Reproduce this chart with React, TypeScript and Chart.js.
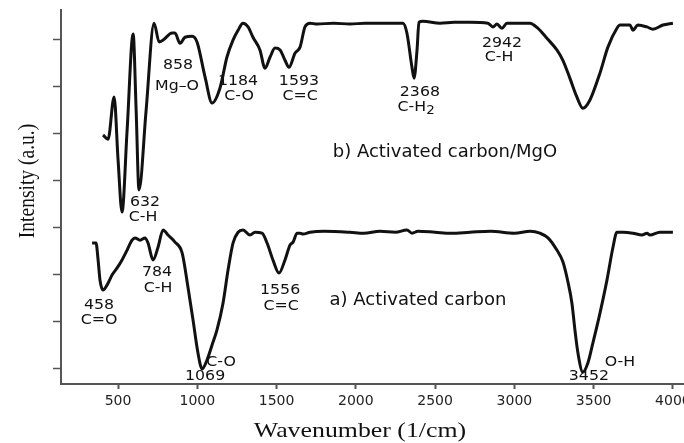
import React, { useEffect, useRef } from "react";
import { Chart, registerables } from "chart.js";

Chart.register(...registerables);

// ---- axis ticks ----
const xTicks = [500, 1000, 1500, 2000, 2500, 3000, 3500, 4000];
const yTicks = [0, 1, 2, 3, 4, 5, 6, 7];

// ---- b) Activated carbon/MgO ----
const mgoWavenumber = [
  405, 437, 475, 500, 525, 557, 595, 614, 632, 677, 727, 759, 784, 841, 859, 891, 922, 967, 998,
  1049, 1093, 1143, 1187, 1225, 1257, 1288, 1320, 1351, 1395, 1427, 1459, 1490, 1522, 1553, 1578,
  1616, 1648, 1679, 1711, 1755, 1860, 1963, 2060, 2152, 2297, 2322, 2354, 2367, 2386, 2398, 2423,
  2531, 2620, 2720, 2833, 2865, 2890, 2922, 2953, 3098, 3149, 3205, 3268, 3306, 3350, 3394, 3432,
  3476, 3540, 3590, 3647, 3666, 3729, 3748, 3779, 3836, 3874, 3937, 4000,
];
const mgoIntensity = [
  4.96, 4.87, 5.77, 4.43, 3.32, 5.06, 7.11, 5.49, 3.79, 5.49, 7.34, 6.94, 6.98, 7.13, 7.13, 6.91,
  7.04, 7.06, 6.94, 6.19, 5.64, 5.96, 6.62, 6.98, 7.19, 7.34, 7.26, 7.04, 6.77, 6.38, 6.62, 6.81,
  6.77, 6.55, 6.40, 6.70, 6.83, 7.26, 7.34, 7.32, 7.34, 7.32, 7.34, 7.34, 7.34, 7.13, 6.40, 6.17,
  6.77, 7.36, 7.38, 7.34, 7.36, 7.36, 7.34, 7.26, 7.32, 7.23, 7.34, 7.34, 7.23, 7.02, 6.77, 6.55,
  6.17, 5.77, 5.53, 5.70, 6.28, 6.83, 7.23, 7.30, 7.30, 7.19, 7.30, 7.26, 7.21, 7.30, 7.34,
];

// ---- a) Activated carbon ----
const carbonWavenumber = [
  336, 361, 374, 386, 405, 431, 462, 494, 525, 557, 588, 607, 639, 670, 689, 721, 752, 784, 815,
  859, 904, 941, 973, 1004, 1030, 1061, 1093, 1124, 1162, 1194, 1225, 1257, 1288, 1332, 1364, 1408,
  1440, 1477, 1515, 1553, 1585, 1604, 1629, 1648, 1667, 1711, 1800, 1963, 2050, 2152, 2250, 2322,
  2354, 2392, 2500, 2600, 2720, 2850, 3000, 3100, 3161, 3212, 3268, 3306, 3338, 3363, 3382, 3401,
  3432, 3464, 3495, 3540, 3584, 3622, 3647, 3685, 3748, 3805, 3836, 3855, 3918, 4000,
];
const carbonIntensity = [
  2.66, 2.66, 2.30, 1.87, 1.66, 1.77, 1.98, 2.13, 2.30, 2.51, 2.72, 2.77, 2.72, 2.77, 2.66, 2.30,
  2.57, 2.94, 2.83, 2.68, 2.45, 1.72, 1.02, 0.32, -0.02, 0.17, 0.49, 0.81, 1.38, 2.09, 2.66, 2.89,
  2.94, 2.83, 2.89, 2.87, 2.66, 2.30, 2.02, 2.30, 2.62, 2.68, 2.87, 2.87, 2.85, 2.89, 2.91, 2.89,
  2.87, 2.91, 2.89, 2.94, 2.87, 2.91, 2.89, 2.87, 2.89, 2.91, 2.87, 2.91, 2.87, 2.77, 2.51, 2.26,
  1.83, 1.38, 0.81, 0.32, -0.09, 0.11, 0.53, 1.17, 1.87, 2.57, 2.89, 2.89, 2.87, 2.83, 2.87, 2.83,
  2.89, 2.89,
];

// ---- peak annotations (text centre in data units) ----
const peakText = [
  "858", "Mg–O", "1184", "C-O", "1593", "C=C", "2368", "C-H_2", "2942", "C-H",
  "632", "C-H", "784", "C-H", "458", "C=O", "C-O", "1069", "1556", "C=C", "O-H", "3452",
];
const peakWavenumber = [
  878, 872, 1257, 1263, 1641, 1648, 2404, 2380, 2922, 2903,
  670, 658, 746, 752, 380, 380, 1150, 1049, 1522, 1528, 3666, 3470,
];
const peakIntensity = [
  6.43, 6.0, 6.09, 5.77, 6.09, 5.77, 5.87, 5.55, 6.91, 6.6,
  3.53, 3.21, 2.04, 1.7, 1.34, 1.02, 0.11, -0.17, 1.64, 1.3, 0.11, -0.17,
];

// ---- series names ----
const seriesText = ["b) Activated carbon/MgO", "a) Activated carbon"];
const seriesWavenumber = [2562, 2392];
const seriesIntensity = [4.6, 1.45];

const xTitle = "Wavenumber (1/cm)";
const yTitle = "Intensity (a.u.)";

const textPlugin = {
  id: "ftirTexts",
  afterDraw(chart: any) {
    const { ctx, scales } = chart;
    const xs = scales.x;
    const ys = scales.y;
    const draw = (
      t: string,
      px: number,
      py: number,
      size: number,
      family: string,
      sx: number,
      sy = 1,
      rot = 0,
      base: CanvasTextBaseline = "middle"
    ) => {
      ctx.save();
      ctx.translate(px, py);
      if (rot) ctx.rotate(rot);
      ctx.scale(sx, sy);
      ctx.font = `${size}px ${family}`;
      ctx.textBaseline = base;
      const parts = t.split("_");
      if (parts.length === 2) {
        const mainW = ctx.measureText(parts[0]).width;
        ctx.font = `${size * 0.85}px ${family}`;
        const subW = ctx.measureText(parts[1]).width;
        const start = -(mainW + subW) / 2;
        ctx.textAlign = "left";
        ctx.font = `${size}px ${family}`;
        ctx.fillText(parts[0], start, 0);
        ctx.font = `${size * 0.85}px ${family}`;
        ctx.fillText(parts[1], start + mainW, size * 0.3);
      } else {
        ctx.textAlign = "center";
        ctx.fillText(t, 0, 0);
      }
      ctx.restore();
    };
    ctx.save();
    ctx.fillStyle = "#111";
    peakText.forEach((t, i) =>
      draw(t, xs.getPixelForValue(peakWavenumber[i]), ys.getPixelForValue(peakIntensity[i]), 13.5, '"DejaVu Sans"', 1.17)
    );
    seriesText.forEach((t, i) =>
      draw(t, xs.getPixelForValue(seriesWavenumber[i]), ys.getPixelForValue(seriesIntensity[i]), 18, '"DejaVu Sans"', 1.0)
    );
    // axis titles
    draw(xTitle, 360, 437, 21, '"Liberation Serif"', 1.23, 1, 0, "alphabetic");
    draw(yTitle, 34, 181, 19.5, '"Liberation Serif"', 1, 1.15, -Math.PI / 2, "alphabetic");
    ctx.restore();
  },
};

export default function App() {
  const canvasRef = useRef<HTMLCanvasElement | null>(null);

  useEffect(() => {
    document.body.style.margin = "0";
    const canvas = canvasRef.current;
    if (!canvas) return;
    const axisColor = "#555";
    const chart = new Chart(canvas, {
      type: "line",
      data: {
        datasets: [
          {
            label: seriesText[0],
            data: mgoWavenumber.map((w, i) => ({ x: w, y: mgoIntensity[i] })),
            borderColor: "#111",
            borderWidth: 3,
            pointRadius: 0,
            cubicInterpolationMode: "monotone",
            fill: false,
          },
          {
            label: seriesText[1],
            data: carbonWavenumber.map((w, i) => ({ x: w, y: carbonIntensity[i] })),
            borderColor: "#111",
            borderWidth: 3,
            pointRadius: 0,
            cubicInterpolationMode: "monotone",
            fill: false,
          },
        ],
      },
      options: {
        animation: false,
        responsive: true,
        maintainAspectRatio: false,
        layout: { padding: { top: 10, right: 0, left: 0, bottom: 0 } },
        plugins: { legend: { display: false }, tooltip: { enabled: false } },
        scales: {
          x: {
            type: "linear",
            min: 140,
            max: 4070,
            afterBuildTicks: (s: any) => {
              s.ticks = xTicks.map((v) => ({ value: v }));
            },
            afterFit: (s: any) => {
              s.height = 59;
              s.paddingLeft = 0;
              s.paddingRight = 0;
            },
            grid: {
              drawOnChartArea: false,
              drawTicks: true,
              tickLength: 5,
              tickWidth: 2,
              tickColor: axisColor,
            },
            border: { display: true, color: axisColor, width: 2 },
            ticks: {
              font: { family: "DejaVu Sans", size: 14 },
              color: "#222",
              padding: 4,
              maxRotation: 0,
              autoSkip: false,
              callback: (v: any) => String(v),
            },
          },
          y: {
            type: "linear",
            min: -0.34,
            max: 7.62,
            afterBuildTicks: (s: any) => {
              s.ticks = yTicks.map((v) => ({ value: v }));
            },
            afterFit: (s: any) => {
              s.width = 61;
              s.paddingTop = 0;
              s.paddingBottom = 0;
            },
            grid: {
              drawOnChartArea: false,
              drawTicks: true,
              tickLength: 8,
              tickWidth: 1.5,
              tickColor: axisColor,
            },
            border: { display: true, color: axisColor, width: 2 },
            ticks: { callback: () => "", padding: 0 },
          },
        },
      },
      plugins: [textPlugin],
    });
    return () => chart.destroy();
  }, []);

  return (
    <div style={{ position: "relative", width: 684, height: 443 }}>
      <canvas ref={canvasRef} />
    </div>
  );
}
